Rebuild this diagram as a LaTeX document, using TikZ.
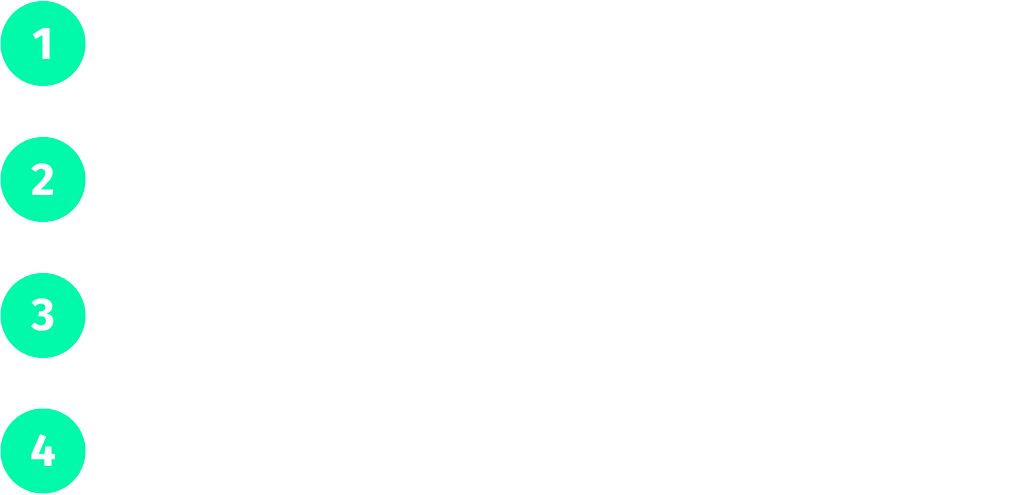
\documentclass[tikz,border=0pt]{standalone}
\usepackage{fontspec}
\setmainfont{Fira Sans}
\definecolor{mint}{RGB}{0,250,170}
\begin{document}
\begin{tikzpicture}[x=1pt,y=-1pt,
  badge/.style={circle,fill=mint,minimum size=85pt,inner sep=0pt,text=white,font=\fontsize{46}{46}\selectfont\bfseries}]
\useasboundingbox[fill=white] (0,0) rectangle (1034,495);
\node[badge] (b1) at (43,43.5) {1};
\node[badge] (b2) at (43,179.5) {2};
\node[badge] (b3) at (43,315.5) {3};
\node[badge] (b4) at (43,451) {4};
\end{tikzpicture}
\end{document}
